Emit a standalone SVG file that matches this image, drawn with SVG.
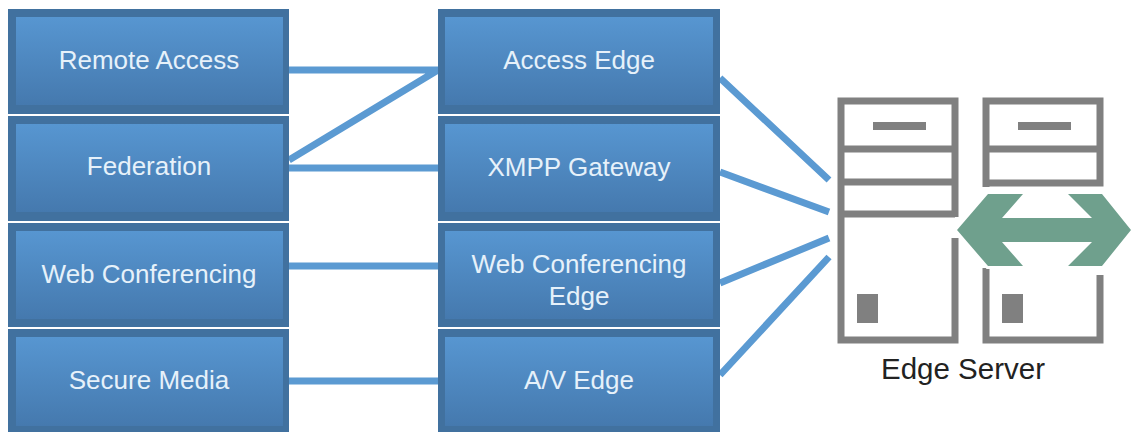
<svg xmlns="http://www.w3.org/2000/svg" width="1131" height="432" viewBox="0 0 1131 432">
<style>
.frame{fill:#41719f}
.fill{fill:url(#g)}
.lbl{font-family:"Liberation Sans",Arial,sans-serif;font-size:26px;fill:#e6f1fa;text-anchor:middle}
.conn{stroke:#5b9ad2;stroke-width:7;fill:none}
.g{fill:#808080}
.o{fill:none;stroke:#808080;stroke-width:7}
</style>
<defs><linearGradient id="g" x1="0" y1="0" x2="0" y2="1"><stop offset="0" stop-color="#5796d1"/><stop offset="1" stop-color="#4579ae"/></linearGradient></defs>
<rect width="1131" height="432" fill="#fff"/>
<g id="connectors">
<path class="conn" d="M289 70H438M289 160L438 70M289 168H438M289 266H438M289 381H438"/>
<path class="conn" d="M720 78L829 180M720 172L829 212M720 283L829 238M720 375L829 257"/>
</g>
<g id="remote-access"><rect class="frame" x="8" y="9" width="281" height="105"/><rect class="fill" x="16" y="17" width="267" height="88"/><text class="lbl" x="149" y="69">Remote Access</text></g>
<g id="federation"><rect class="frame" x="8" y="116" width="281" height="105"/><rect class="fill" x="16" y="124" width="267" height="88"/><text class="lbl" x="149" y="175">Federation</text></g>
<g id="web-conferencing"><rect class="frame" x="8" y="223" width="281" height="104"/><rect class="fill" x="16" y="231" width="267" height="88"/><text class="lbl" x="149" y="283">Web Conferencing</text></g>
<g id="secure-media"><rect class="frame" x="8" y="329" width="281" height="103"/><rect class="fill" x="16" y="337" width="267" height="89"/><text class="lbl" x="149" y="389">Secure Media</text></g>
<g id="access-edge"><rect class="frame" x="438" y="9" width="282" height="105"/><rect class="fill" x="445" y="17" width="268" height="88"/><text class="lbl" x="579" y="69">Access Edge</text></g>
<g id="xmpp-gateway"><rect class="frame" x="438" y="116" width="282" height="105"/><rect class="fill" x="445" y="124" width="268" height="88"/><text class="lbl" x="579" y="176">XMPP Gateway</text></g>
<g id="web-conferencing-edge"><rect class="frame" x="438" y="223" width="282" height="104"/><rect class="fill" x="445" y="231" width="268" height="88"/><text class="lbl" x="579" y="273">Web Conferencing</text><text class="lbl" x="579" y="305">Edge</text></g>
<g id="av-edge"><rect class="frame" x="438" y="329" width="282" height="103"/><rect class="fill" x="445" y="337" width="268" height="89"/><text class="lbl" x="579" y="389">A/V Edge</text></g>
<g id="edge-server">
<path class="o" d="M955 217V101H841V340H955V238"/>
<path class="o" d="M841 149H955M841 182H955M841 214H955"/>
<rect class="g" x="873" y="122" width="53" height="8"/>
<rect class="g" x="857" y="294" width="21" height="29"/>
<path class="o" d="M986 187V101H1100V183H986M986 149H1100"/>
<path class="o" d="M986 268V340H1100V275"/>
<rect class="g" x="1018" y="122" width="53" height="8"/>
<rect class="g" x="1002" y="294" width="21" height="29"/>
<path fill="#6fa08d" stroke="#fff" stroke-width="6" paint-order="stroke" d="M957 230L988 194H1023L1002 218H1092L1068 194H1102L1131 230L1102 266H1068L1092 242H1002L1023 266H988Z"/>
<text x="963" y="379" font-family="'Liberation Sans',Arial,sans-serif" font-size="29.5" fill="#222" text-anchor="middle">Edge Server</text>
</g>
</svg>
